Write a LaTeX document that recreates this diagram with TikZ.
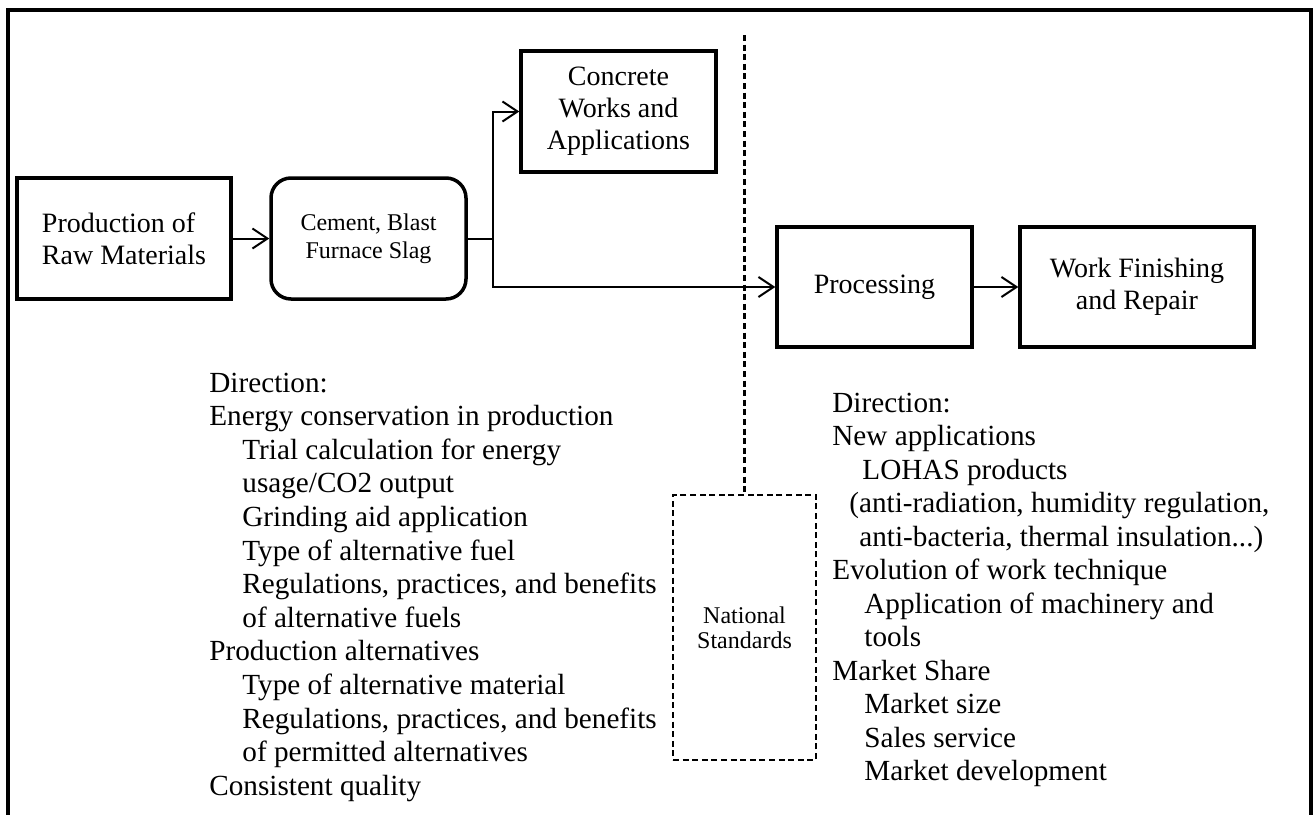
\documentclass[tikz,border=0pt]{standalone}
\usepackage{fontspec}
\setmainfont{Liberation Serif}
\usetikzlibrary{arrows.meta}

\begin{document}
\begin{tikzpicture}[x=0.5pt,y=-0.5pt,
  stagebox/.style={draw, line width=1.75pt, inner sep=0pt, align=center,
    font=\fontsize{14}{16}\selectfont},
  roundbox/.style={stagebox, rounded corners=10pt, font=\fontsize{12}{14}\selectfont},
  stdbox/.style={draw, line width=1.3pt, dash pattern=on 3pt off 1.8pt,
    inner sep=0pt, align=center, font=\fontsize{12}{12.5}\selectfont},
  flow/.style={line width=1pt, -{Straight Barb[length=7.5pt,width=10pt,line width=1pt]}},
  link/.style={line width=1pt},
  divider/.style={line width=1.3pt, dash pattern=on 3pt off 1.8pt},
  item/.style={anchor=base west, inner sep=0pt, font=\fontsize{14.6}{16.8}\selectfont},
  frame/.style={line width=1.75pt}]

  % page area
  \useasboundingbox (0,0) rectangle (1316,814);
  \fill[white] (0,0) rectangle (1316,814);

  % open frame around the whole chart
  \draw[frame] (8,830) -- (8,10) -- (1311,10) -- (1311,830);

  % process stages
  \node[stagebox, minimum width=107pt, minimum height=60.5pt, align=left]
    (raw) at (124,238.5) {Production of\\Raw Materials};
  \node[roundbox, minimum width=97.5pt, minimum height=60.5pt]
    (cement) at (368.5,238.5) {Cement, Blast\\Furnace Slag};
  \node[stagebox, minimum width=97.5pt, minimum height=60.5pt]
    (concrete) at (618.5,111.5) {Concrete\\Works and\\Applications};
  \node[stagebox, minimum width=97.5pt, minimum height=60pt]
    (proc) at (874.5,287) {Processing};
  \node[stagebox, minimum width=117pt, minimum height=60pt]
    (finish) at (1137,287) {Work Finishing\\and Repair};

  % standards box with its divider line
  \node[stdbox, minimum width=71.5pt, minimum height=132.5pt]
    (std) at (744.5,627.5) {National\\Standards};
  \coordinate (divtop) at (744.5,35);
  \draw[divider] (divtop) -- (std.north);

  % connectors
  \coordinate (fork) at (493,238.5);
  \draw[flow] (raw.east) -- (cement.west);
  \draw[link] (cement.east) -- (fork);
  \draw[flow] (fork) |- (concrete.west);
  \draw[flow] (fork) |- (proc.west);
  \draw[flow] (proc.east) -- (finish.west);

  % directions for the upstream side
  \foreach \txt/\xx [count=\i] in {
      {Direction:}/209,
      {Energy conservation in production}/209,
      {Trial calculation for energy}/242,
      {usage/CO2 output}/242,
      {Grinding aid application}/242,
      {Type of alternative fuel}/242,
      {Regulations, practices, and benefits}/242,
      {of alternative fuels}/242,
      {Production alternatives}/209,
      {Type of alternative material}/242,
      {Regulations, practices, and benefits}/242,
      {of permitted alternatives}/242,
      {Consistent quality}/209}
    \node[item] (up\i) at (\xx,{392+33.6*(\i-1)}) {\txt};

  % directions for the downstream side
  \foreach \txt/\xx [count=\i] in {
      {Direction:}/832,
      {New applications}/832,
      {LOHAS products}/862,
      {(anti-radiation, humidity regulation,}/849,
      {anti-bacteria, thermal insulation...)}/859,
      {Evolution of work technique}/832,
      {Application of machinery and}/864,
      {tools}/864,
      {Market Share}/832,
      {Market size}/864,
      {Sales service}/864,
      {Market development}/864}
    \node[item] (down\i) at (\xx,{412+33.5*(\i-1)}) {\txt};
\end{tikzpicture}
\end{document}
